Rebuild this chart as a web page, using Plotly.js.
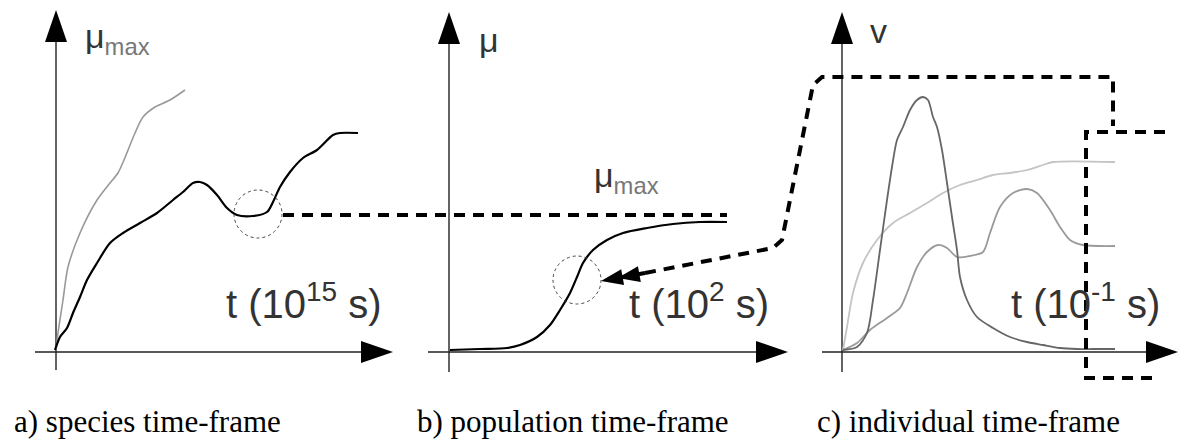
<!DOCTYPE html>
<html>
<head>
<meta charset="utf-8">
<script src="https://cdn.plot.ly/plotly-3.0.1.min.js"></script>
<style>html,body{margin:0;padding:0;background:#fff}#chart{width:1179px;height:441px}</style>
</head>
<body>
<div id="chart"></div>
<script>
// ---------- data (figure units) ----------
// axes of the three panels
const axisOriginX = [56, 449, 842];
const axisOriginY = [352, 352, 352];
const xAxisStart  = [35, 428, 822];
const xAxisTip    = [393, 788, 1178];
const yAxisBottom = [370, 372, 372];
const yAxisTip    = [10, 12, 12];

// panel a: species time-frame
const speciesUpperT = [56, 58, 63, 68, 80, 97, 110, 118, 124, 135, 143, 155, 170, 185];
const speciesUpperV = [350, 333, 300, 267, 233, 200, 183, 173, 160, 133, 117, 107, 100, 90];
const speciesMainT  = [55, 60, 67, 73, 80, 87, 97, 110, 123, 140, 157, 173, 183, 193, 200, 207, 217, 227, 237, 253, 267, 273, 280, 290, 303, 317, 333, 340, 358];
const speciesMainV  = [350, 337, 328, 313, 297, 280, 263, 243, 233, 223, 213, 200, 192, 183, 182, 185, 195, 208, 215, 216, 212, 202, 187, 172, 158, 150, 135, 133, 133];

// panel b: population time-frame
const populationT = [450, 480, 507, 520, 537, 550, 560, 570, 577, 583, 593, 607, 623, 647, 673, 700, 727];
const populationV = [350, 349, 348, 345, 337, 325, 310, 293, 277, 263, 250, 240, 233, 228, 224, 222, 222];

// panel c: individual time-frame
const indivPeakT = [843, 857, 867, 873, 880, 887, 892, 897, 903, 910, 917, 923, 928, 933, 937, 942, 947, 952, 957, 960, 967, 977, 993, 1010, 1027, 1043, 1060, 1077, 1093, 1115];
const indivPeakV = [350, 347, 333, 300, 250, 200, 167, 140, 127, 110, 100, 97, 100, 117, 127, 150, 183, 217, 250, 277, 300, 317, 328, 337, 342, 345, 348, 349, 349, 349];
const indivSatT  = [843, 847, 853, 863, 877, 893, 910, 927, 943, 960, 977, 993, 1010, 1027, 1043, 1053, 1115];
const indivSatV  = [350, 327, 293, 263, 240, 223, 213, 203, 193, 185, 180, 175, 173, 170, 165, 162, 162];
const indivHumpT = [843, 857, 870, 887, 900, 907, 917, 927, 938, 947, 957, 970, 983, 990, 1000, 1013, 1027, 1037, 1050, 1060, 1070, 1083, 1115];
const indivHumpV = [350, 343, 330, 318, 308, 293, 267, 252, 245, 248, 257, 256, 252, 233, 207, 193, 189, 193, 210, 227, 240, 245, 246];

// connectors (dashed)
const linkAB_X = [283, 727];
const linkAB_Y = [215, 215];
const linkBC_X = [645, 773, 782, 813, 822, 1113, 1113];
const linkBC_Y = [273, 248, 240, 85, 77, 77, 126];
const bracketX = [1165, 1086, 1086, 1160];
const bracketY = [132, 132, 378, 378];
const arrowTipX = 601, arrowTipY = 281;

// dotted focus circles
const circleX = [258, 577];
const circleY = [214, 280];
const circleR = [24, 24];

// text (x = left edge, y = baseline)
const axisLabels = [
  {x: 83,  y: 53,  text: 'μ<sub><span style="color:#777">max</span></sub>'},
  {x: 477, y: 52,  text: 'μ'},
  {x: 592, y: 192, text: 'μ<sub><span style="color:#777">max</span></sub>'},
  {x: 868, y: 43,  text: 'v'}
];
const timeLabels = [
  {x: 224, y: 317, text: 't (10<sup>15</sup> s)'},
  {x: 627, y: 317, text: 't (10<sup>2</sup> s)'},
  {x: 1009, y: 317, text: 't (10<sup>-1</sup> s)'}
];
const captions = [
  {x: 12, y: 435, text: 'a) species time-frame'},
  {x: 415, y: 435, text: 'b) population time-frame'},
  {x: 815, y: 435, text: 'c) individual time-frame'}
];

// ---------- build ----------
const traces = [];
const AXC = '#222';
const headLen = 32, headHalf = 11;
for (let i = 0; i < 3; i++) {
  traces.push({x: [xAxisStart[i], xAxisTip[i] - 5], y: [axisOriginY[i], axisOriginY[i]], mode: 'lines', line: {color: AXC, width: 1.4}, hoverinfo: 'skip'});
  traces.push({x: [axisOriginX[i], axisOriginX[i]], y: [yAxisBottom[i], yAxisTip[i] + 5], mode: 'lines', line: {color: AXC, width: 1.4}, hoverinfo: 'skip'});
  const xt = xAxisTip[i], yo = axisOriginY[i];
  traces.push({x: [xt - headLen, xt, xt - headLen, xt - headLen], y: [yo - headHalf, yo, yo + headHalf, yo - headHalf], mode: 'lines', fill: 'toself', fillcolor: '#000', line: {color: '#000', width: 0}, hoverinfo: 'skip'});
  const xo = axisOriginX[i], ytp = yAxisTip[i];
  traces.push({x: [xo - headHalf, xo, xo + headHalf, xo - headHalf], y: [ytp + headLen, ytp, ytp + headLen, ytp + headLen], mode: 'lines', fill: 'toself', fillcolor: '#000', line: {color: '#000', width: 0}, hoverinfo: 'skip'});
}

function curve(x, y, color, width) {
  return {x: x, y: y, mode: 'lines', line: {color: color, width: width, shape: 'spline', smoothing: 0.8}, hoverinfo: 'skip'};
}
traces.push(curve(speciesUpperT, speciesUpperV, '#999', 1.6));
traces.push(curve(speciesMainT, speciesMainV, '#000', 2.2));
traces.push(curve(populationT, populationV, '#000', 2.2));
traces.push(curve(indivSatT, indivSatV, '#c4c4c4', 1.8));
traces.push(curve(indivHumpT, indivHumpV, '#9a9a9a', 1.8));
traces.push(curve(indivPeakT, indivPeakV, '#666', 1.8));

const DASH = {color: '#000', width: 4, dash: '11px,8px'};
traces.push({x: linkAB_X, y: linkAB_Y, mode: 'lines', line: DASH, hoverinfo: 'skip'});
traces.push({x: linkBC_X, y: linkBC_Y, mode: 'lines', line: DASH, hoverinfo: 'skip'});
traces.push({x: bracketX, y: bracketY, mode: 'lines', line: DASH, hoverinfo: 'skip'});

// double arrowhead at the population curve
(function () {
  const dx = linkBC_X[0] - arrowTipX, dy = linkBC_Y[0] - arrowTipY;
  const L = Math.hypot(dx, dy), ux = dx / L, uy = dy / L, nx = -uy, ny = ux;
  const len = 22, half = 8;
  [0, 17].forEach(function (off) {
    const tx = arrowTipX + ux * off, ty = arrowTipY + uy * off;
    const bx = tx + ux * len, by = ty + uy * len;
    traces.push({x: [tx, bx + nx * half, bx - nx * half, tx], y: [ty, by + ny * half, by - ny * half, ty], mode: 'lines', fill: 'toself', fillcolor: '#000', line: {color: '#000', width: 0}, hoverinfo: 'skip'});
  });
  traces.push({x: [arrowTipX + ux * 10, linkBC_X[0]], y: [arrowTipY + uy * 10, linkBC_Y[0]], mode: 'lines', line: {color: '#000', width: 4}, hoverinfo: 'skip'});
})();

const shapes = circleX.map(function (cx, i) {
  return {type: 'circle', xref: 'x', yref: 'y', x0: cx - circleR[i], x1: cx + circleR[i], y0: circleY[i] - circleR[i], y1: circleY[i] + circleR[i], line: {color: '#444', width: 1, dash: '3px,3px'}};
});

const annotations = [];
function addText(list, size, family, color, baselineShift) {
  list.forEach(function (a) {
    annotations.push({x: a.x, y: a.y, yshift: -baselineShift, xref: 'x', yref: 'y', text: a.text, showarrow: false, xanchor: 'left', yanchor: 'bottom', font: {family: family, size: size, color: color}});
  });
}
addText(axisLabels, 34, 'Liberation Sans, Arial, sans-serif', '#333', 9);
addText(timeLabels, 40, 'Liberation Sans, Arial, sans-serif', '#333', 11);
addText(captions, 31, 'Liberation Serif, Times New Roman, serif', '#000', 6);

const layout = {
  width: 1179, height: 441,
  margin: {l: 0, r: 0, t: 0, b: 0},
  paper_bgcolor: '#fff', plot_bgcolor: '#fff',
  showlegend: false,
  xaxis: {range: [0, 1179], visible: false, fixedrange: true},
  yaxis: {range: [441, 0], visible: false, fixedrange: true},
  shapes: shapes,
  annotations: annotations
};
Plotly.newPlot('chart', traces, layout, {staticPlot: true, displayModeBar: false});
</script>
</body>
</html>
